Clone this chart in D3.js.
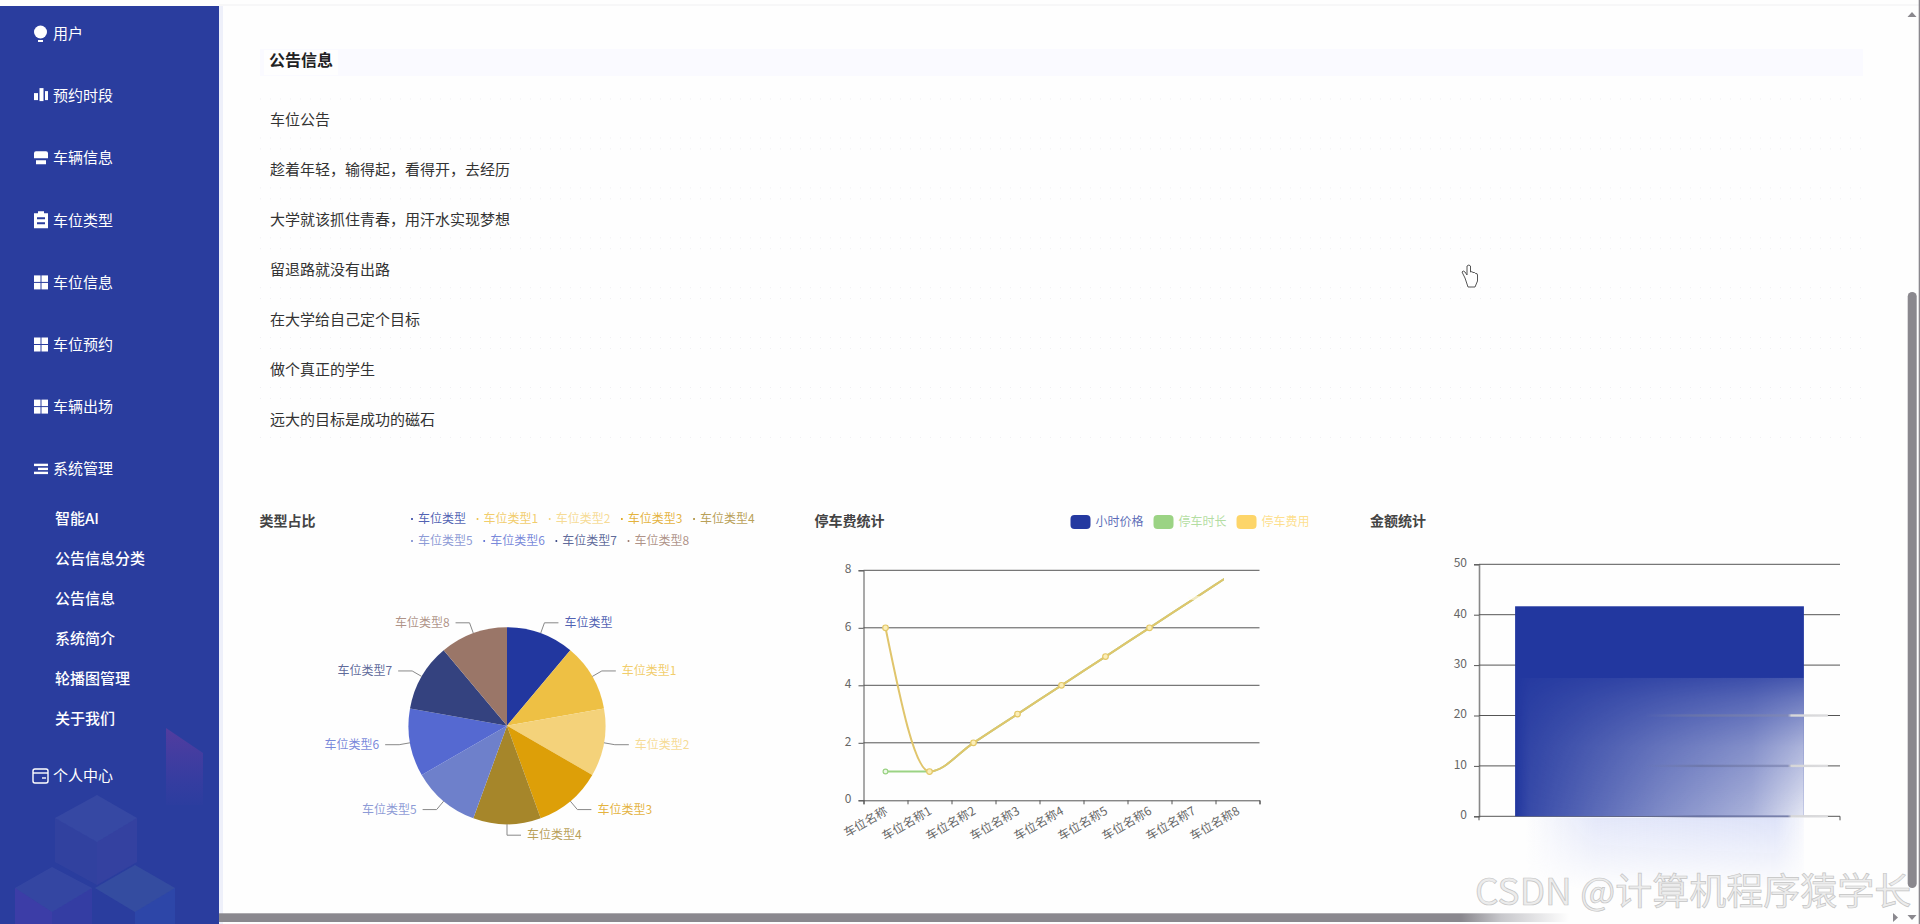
<!DOCTYPE html>
<html>
<head>
<meta charset="utf-8">
<script src="https://cdn.jsdelivr.net/npm/d3@7"></script>
<style>
    html, body { margin: 0; padding: 0; background: #fefefe; overflow: hidden; }
    svg { display: block; }
    text { font-family: "Noto Sans CJK SC", "Noto Sans", sans-serif; }
</style>
</head>
<body>
<div id="page"></div>
<script>
// menu
const menuItems = ['用户', '预约时段', '车辆信息', '车位类型', '车位信息', '车位预约', '车辆出场', '系统管理'];
const menuIcons = ['bulb', 'bars', 'shop', 'clip', 'grid', 'grid', 'grid', 'list'];
const subMenuItems = ['智能AI', '公告信息分类', '公告信息', '系统简介', '轮播图管理', '关于我们'];

// notices
const noticeTitle = '公告信息';
const notices = ['车位公告', '趁着年轻，输得起，看得开，去经历', '大学就该抓住青春，用汗水实现梦想', '留退路就没有出路', '在大学给自己定个目标', '做个真正的学生', '远大的目标是成功的磁石'];

// pie
const pieLabels = ['车位类型', '车位类型1', '车位类型2', '车位类型3', '车位类型4', '车位类型5', '车位类型6', '车位类型7', '车位类型8'];
const pieValues = [1, 1, 1, 1, 1, 1, 1, 1, 1];
const pieColors = ['#22379f', '#eec044', '#f4d27a', '#dd9f08', '#a6862a', '#6e80cb', '#5569d1', '#34427f', '#9a7668'];

// line
const lineCategories = ['车位名称', '车位名称1', '车位名称2', '车位名称3', '车位名称4', '车位名称5', '车位名称6', '车位名称7', '车位名称8'];
const durationValues = [1, 1, 2, 3, 4, 5, 6, 7, 8];
const feeValues = [6, 1, 2, 3, 4, 5, 6, 7, 8];
const lineLegend = ['小时价格', '停车时长', '停车费用'];
const lineLegendColors = ['#2439a0', '#9bd384', '#fdd569'];
const lineTicks = [0, 2, 4, 6, 8];

// bar
const amountCategories = ['金额'];
const amountValues = [41.67];
const amountTicks = [0, 10, 20, 30, 40, 50];

const sidebarColor = '#2a3d9e';
const axisColor = '#555';
const labelColor = '#666';
const thinText = 0.8; // labels in the reference look washed out

const svg = d3.select('#page').append('svg').attr('width', 1920).attr('height', 924);
const defs = svg.append('defs');

svg.append('rect').attr('width', 1920).attr('height', 924).attr('fill', '#fefefe');
svg.append('line').attr('x1', 219).attr('x2', 1920).attr('y1', 5).attr('y2', 5).attr('stroke', '#f0f0f2');

drawSidebar();
drawNotices();
drawPie();
drawLine();
drawBar();
drawChrome();

function drawSidebar() {
    const g = svg.append('g');
    g.append('rect').attr('x', 219).attr('y', 6).attr('width', 4).attr('height', 918).attr('fill', '#eef0fa');
    g.append('rect').attr('y', 6).attr('width', 219).attr('height', 918).attr('fill', sidebarColor);

    // faint cubes of the background picture
    const fade = defs.append('linearGradient').attr('id', 'panelFade').attr('x1', 0).attr('x2', 0).attr('y1', 0).attr('y2', 1);
    fade.append('stop').attr('offset', 0).attr('stop-color', '#8c3ca0').attr('stop-opacity', 0.42);
    fade.append('stop').attr('offset', 1).attr('stop-color', '#6a3cb0').attr('stop-opacity', 0.03);
    g.append('polygon').attr('points', '166,728 203,753 203,805 166,805').attr('fill', 'url(#panelFade)');
    const cubes = [
        ['97,795 137,818 97,842 55,818', '#fff', 0.06],
        ['55,818 97,842 97,885 55,862', '#7a6ab0', 0.1],
        ['97,842 137,818 137,862 97,885', '#7a5ab0', 0.13],
        ['15,888 52,867 92,888 52,912', '#fff', 0.05],
        ['15,888 52,912 52,924 15,924', '#6a3cc0', 0.28],
        ['52,912 92,888 92,924 52,924', '#6a3cc0', 0.16],
        ['135,865 175,888 135,912 95,888', '#6a9ab0', 0.16],
        ['135,912 175,888 175,924 135,924', '#3a70d0', 0.2],
    ];
    cubes.forEach(c => g.append('polygon').attr('points', c[0]).attr('fill', c[1]).attr('opacity', c[2]));

    const menu = g.selectAll('.menu').data(menuItems).enter().append('g')
        .attr('transform', (d, i) => `translate(0, ${34 + i * 62.1})`);
    menu.append('text').attr('x', 53).attr('dy', '0.35em').attr('fill', '#fff').attr('font-size', 15).text(d => d);
    menu.each(function (d, i) { drawIcon(d3.select(this), menuIcons[i]); });

    g.selectAll('.sub').data(subMenuItems).enter().append('text')
        .attr('x', 55).attr('y', (d, i) => 518.5 + i * 40.1).attr('dy', '0.35em')
        .attr('fill', '#fff').attr('font-size', 15).attr('font-weight', 500).text(d => d);

    const personal = g.append('g').attr('transform', 'translate(0, 776)');
    personal.append('text').attr('x', 53).attr('dy', '0.35em').attr('fill', '#fff').attr('font-size', 15).text('个人中心');
    personal.append('rect').attr('x', 33).attr('y', -7).attr('width', 15).attr('height', 14).attr('rx', 2)
        .attr('fill', 'none').attr('stroke', '#fff').attr('stroke-width', 1.4);
    personal.append('line').attr('x1', 33).attr('x2', 48).attr('y1', -3).attr('y2', -3).attr('stroke', '#fff').attr('stroke-width', 1.4);
    personal.append('line').attr('x1', 42).attr('x2', 46).attr('y1', 2).attr('y2', 2).attr('stroke', '#fff').attr('stroke-width', 1.4);
}

function drawIcon(g, name) {
    if (name === 'bulb') {
        g.append('circle').attr('cx', 40.5).attr('cy', -2).attr('r', 6.5).attr('fill', '#fff');
        g.append('rect').attr('x', 38).attr('y', 6).attr('width', 5).attr('height', 2).attr('fill', '#fff');
    } else if (name === 'bars') {
        [[34, 4, -2, 6], [39.5, 4, -7, 12], [45, 3, -4, 8]].forEach(b =>
            g.append('rect').attr('x', b[0]).attr('width', b[1]).attr('y', b[2] - 1).attr('height', b[3] + 1).attr('fill', '#fff'));
    } else if (name === 'shop') {
        g.append('path').attr('d', 'M36 -7 H46 Q48 -7 48 -5 V0 H34 V-5 Q34 -7 36 -7 Z M36 2 H46 V6 H36 Z').attr('fill', '#fff');
    } else if (name === 'clip') {
        g.append('path').attr('d', 'M34 -7 H38 V-9 H44 V-7 H48 V8 H34 Z M37 -3 V-1 H45 V-3 Z M37 2 V4 H45 V2 Z').attr('fill', '#fff').attr('fill-rule', 'evenodd');
    } else if (name === 'grid') {
        [[34, -7], [41.5, -7], [34, 0.5], [41.5, 0.5]].forEach(b =>
            g.append('rect').attr('x', b[0]).attr('y', b[1]).attr('width', 6.5).attr('height', 6.5).attr('fill', '#fff'));
    } else if (name === 'list') {
        [-5, -1, 3].forEach((y, i) =>
            g.append('rect').attr('x', i === 1 ? 38 : 34).attr('y', y).attr('width', i === 1 ? 10 : 14).attr('height', 2.4).attr('fill', '#fff'));
    }
}

function drawNotices() {
    const g = svg.append('g');
    g.append('rect').attr('x', 260).attr('y', 49).attr('width', 1603).attr('height', 27).attr('fill', '#fafaff');
    g.append('rect').attr('x', 264).attr('y', 50).attr('width', 74).attr('height', 25).attr('fill', '#fefefe');
    g.append('text').attr('x', 269).attr('y', 60.5).attr('dy', '0.35em').attr('font-size', 16)
        .attr('font-weight', 700).attr('fill', '#222').text(noticeTitle);

    const rows = g.selectAll('.row').data(notices).enter().append('g')
        .attr('transform', (d, i) => `translate(0, ${120 + i * 49.9})`);
    rows.append('text').attr('x', 270).attr('dy', '0.35em').attr('font-size', 15).attr('fill', '#333').text(d => d);
    [-21, 18].forEach(dy => {
        rows.append('line').attr('x1', 260).attr('x2', 1863).attr('y1', dy).attr('y2', dy)
            .attr('stroke', '#efeff2').attr('stroke-dasharray', '1 9');
    });
}

function chartTitle(x, text) {
    svg.append('text').attr('x', x).attr('y', 521).attr('dy', '0.35em').attr('font-size', 14)
        .attr('font-weight', 700).attr('fill', '#444').text(text);
}

function drawPie() {
    chartTitle(259.5, '类型占比');

    // legend, wraps after five items
    const legend = svg.append('g');
    let lx = 418;
    pieLabels.forEach((label, i) => {
        if (i === 5) lx = 418;
        const ly = i < 5 ? 519 : 541;
        legend.append('circle').attr('cx', lx - 6).attr('cy', ly).attr('r', 1).attr('fill', pieColors[i]);
        const t = legend.append('text').attr('x', lx).attr('y', ly).attr('dy', '0.35em')
            .attr('font-size', 12).attr('fill', pieColors[i]).attr('fill-opacity', thinText).text(label);
        lx += t.node().getComputedTextLength() + 17.5;
    });

    const radius = 98.5;
    const g = svg.append('g').attr('transform', 'translate(507, 725.7)');
    const pie = d3.pie().value(d => d).sort(null);
    const arc = d3.arc().innerRadius(0).outerRadius(radius);
    const arcs = pie(pieValues);

    g.selectAll('path.slice').data(arcs).enter().append('path')
        .attr('class', 'slice')
        .attr('d', arc)
        .attr('fill', (d, i) => pieColors[i]);

    arcs.forEach((d, i) => {
        const mid = (d.startAngle + d.endAngle) / 2;
        const sx = Math.sin(mid), sy = -Math.cos(mid);
        const side = sx >= -1e-6 ? 1 : -1;
        const ex = (radius + 11) * sx, ey = (radius + 11) * sy;
        g.append('polyline')
            .attr('points', [[radius * sx, radius * sy], [ex, ey], [ex + side * 14, ey]].join(' '))
            .attr('fill', 'none').attr('stroke', '#888').attr('stroke-width', 1);
        g.append('text')
            .attr('x', ex + side * 20).attr('y', ey).attr('dy', '0.35em')
            .attr('text-anchor', side > 0 ? 'start' : 'end')
            .attr('font-size', 12).attr('fill', pieColors[i]).attr('fill-opacity', thinText).text(pieLabels[i]);
    });
}

function drawLine() {
    chartTitle(814.5, '停车费统计');

    // legend
    let lx = 1070.5;
    lineLegend.forEach((label, i) => {
        svg.append('rect').attr('x', lx).attr('y', 515).attr('width', 20).attr('height', 14).attr('rx', 4)
            .attr('fill', lineLegendColors[i]);
        const t = svg.append('text').attr('x', lx + 25).attr('y', 522).attr('dy', '0.35em')
            .attr('font-size', 12).attr('fill', lineLegendColors[i]).attr('fill-opacity', 0.75).text(label);
        lx += 25 + t.node().getComputedTextLength() + 10;
    });

    const left = 863.5, right = 1259.5, top = 570.3, bottom = 800.3;
    const x = d3.scaleBand().domain(lineCategories).range([left, right]);
    const y = d3.scaleLinear().domain([0, 8]).range([bottom, top]);
    const xBoundary = d3.scaleLinear().domain([0, lineCategories.length]).range([left, right]);

    const yAxis = svg.append('g').attr('transform', `translate(${left}, 0)`)
        .call(d3.axisLeft(y).tickValues(lineTicks).tickSize(5).tickPadding(7));
    yAxis.selectAll('line').attr('stroke', axisColor);
    yAxis.selectAll('text').attr('font-size', 12).attr('fill', labelColor).attr('y', -1.5);
    yAxis.select('.domain').attr('stroke', axisColor);

    svg.append('g').selectAll('line').data(lineTicks.filter(d => d > 0)).enter().append('line')
        .attr('x1', left).attr('x2', right)
        .attr('y1', d => y(d)).attr('y2', d => y(d))
        .attr('stroke', axisColor);

    const xTicks = svg.append('g').attr('transform', `translate(0, ${bottom})`)
        .call(d3.axisBottom(xBoundary).tickValues(d3.range(lineCategories.length + 1)).tickSize(4).tickFormat(''));
    xTicks.selectAll('line').attr('stroke', axisColor);
    xTicks.select('.domain').attr('stroke', axisColor);

    const xLabels = svg.append('g').attr('transform', `translate(0, ${bottom})`)
        .call(d3.axisBottom(x).tickSize(0));
    xLabels.select('.domain').remove();
    xLabels.selectAll('.tick text')
        .attr('font-size', 12).attr('fill', labelColor)
        .attr('text-anchor', 'end')
        .attr('dy', '0.35em').attr('x', 1).attr('y', 0)
        .attr('transform', 'translate(0, 10) rotate(-30)');

    // the screenshot caught the reveal animation: everything right of this is not drawn yet
    const revealRight = 1224;
    defs.append('clipPath').attr('id', 'lineReveal').append('rect')
        .attr('x', left - 10).attr('y', top - 10).attr('width', revealRight - left + 10).attr('height', bottom - top + 20);

    const line = d3.line()
        .x((d, i) => x(lineCategories[i]) + x.bandwidth() / 2)
        .y(d => y(d))
        .curve(d3.curveMonotoneX);

    const plot = svg.append('g').attr('clip-path', 'url(#lineReveal)');
    plot.append('path').attr('d', line(durationValues)).attr('fill', 'none').attr('stroke', '#9bd384').attr('stroke-width', 2);
    plot.append('path').attr('d', line(feeValues)).attr('fill', 'none').attr('stroke', '#e0c56c').attr('stroke-width', 2);

    plot.append('circle')
        .attr('cx', x(lineCategories[0]) + x.bandwidth() / 2).attr('cy', y(durationValues[0])).attr('r', 2.4)
        .attr('fill', '#eef8ea').attr('stroke', '#9bd384').attr('stroke-width', 1.2);

    plot.selectAll('circle.fee').data(feeValues.slice(0, 7)).enter().append('circle')
        .attr('class', 'fee')
        .attr('cx', (d, i) => x(lineCategories[i]) + x.bandwidth() / 2)
        .attr('cy', d => y(d))
        .attr('r', 2.8)
        .attr('fill', '#fbeeb8').attr('stroke', '#e3c766').attr('stroke-width', 1.2);

    // pale smear over the eighth point
    plot.append('ellipse')
        .attr('cx', x(lineCategories[7]) + x.bandwidth() / 2 + 3).attr('cy', y(feeValues[7]) - 1)
        .attr('rx', 9).attr('ry', 2)
        .attr('fill', '#fffdf0').attr('opacity', 0.6);
}

function drawBar() {
    chartTitle(1370, '金额统计');

    const left = 1479, right = 1840, top = 564.3, bottom = 816.3;
    const x = d3.scaleBand().domain(amountCategories).range([left, right]).paddingInner(0.2).paddingOuter(0.1);
    const y = d3.scaleLinear().domain([0, 50]).range([bottom, top]);

    const yAxis = svg.append('g').attr('transform', `translate(${left}, 0)`)
        .call(d3.axisLeft(y).tickValues(amountTicks).tickSize(5).tickPadding(7));
    yAxis.selectAll('line').attr('stroke', axisColor);
    yAxis.selectAll('text').attr('font-size', 12).attr('fill', labelColor).attr('y', -1.5);
    yAxis.select('.domain').attr('stroke', '#888').attr('stroke-width', 1.6);

    svg.append('g').selectAll('line').data(amountTicks).enter().append('line')
        .attr('x1', left).attr('x2', right)
        .attr('y1', d => y(d)).attr('y2', d => y(d))
        .attr('stroke', axisColor);

    [left, right].forEach(px => {
        svg.append('line').attr('x1', px).attr('x2', px).attr('y1', bottom).attr('y2', bottom + 4).attr('stroke', axisColor);
    });

    const barX = x(amountCategories[0]), barW = x.bandwidth();
    const barTop = y(amountValues[0]);
    const barH = bottom - barTop;

    // the solid bar
    svg.append('rect').attr('x', barX).attr('y', barTop).attr('width', barW).attr('height', barH).attr('fill', '#22379f');

    // the picture was taken mid-transition, the lower right of the bar washes out to white
    const fadeTop = y(27.5);
    const washH = defs.append('linearGradient').attr('id', 'washH');
    [[0, 0], [0.05, 0.1], [0.5, 0.42], [0.82, 0.62], [1, 0.88]].forEach(s =>
        washH.append('stop').attr('offset', s[0]).attr('stop-color', '#fff').attr('stop-opacity', s[1]));
    const washV = defs.append('linearGradient').attr('id', 'washV').attr('x1', 0).attr('x2', 0).attr('y1', 0).attr('y2', 1);
    [[0, 0.2], [0.15, 0.38], [0.5, 0.72], [1, 1]].forEach(s =>
        washV.append('stop').attr('offset', s[0]).attr('stop-color', '#fff').attr('stop-opacity', s[1]));
    defs.append('mask').attr('id', 'washMask').attr('maskContentUnits', 'objectBoundingBox')
        .append('rect').attr('width', 1).attr('height', 1).attr('fill', 'url(#washV)');
    svg.append('rect').attr('x', barX).attr('y', fadeTop).attr('width', barW).attr('height', bottom - fadeTop)
        .attr('fill', 'url(#washH)').attr('mask', 'url(#washMask)');

    // haze under the bar
    const hazeH = defs.append('linearGradient').attr('id', 'hazeH');
    [[0, 0], [0.25, 0.8], [0.9, 1], [1, 0.2]].forEach(s =>
        hazeH.append('stop').attr('offset', s[0]).attr('stop-color', '#dde2f8').attr('stop-opacity', s[1]));
    const hazeV = defs.append('linearGradient').attr('id', 'hazeV').attr('x1', 0).attr('x2', 0).attr('y1', 0).attr('y2', 1);
    hazeV.append('stop').attr('offset', 0).attr('stop-color', '#fff').attr('stop-opacity', 1);
    hazeV.append('stop').attr('offset', 1).attr('stop-color', '#fff').attr('stop-opacity', 0);
    defs.append('mask').attr('id', 'hazeMask').attr('maskContentUnits', 'objectBoundingBox')
        .append('rect').attr('width', 1).attr('height', 1).attr('fill', 'url(#hazeV)');
    svg.append('rect').attr('x', barX + 10).attr('y', bottom + 1).attr('width', barW - 10).attr('height', 72)
        .attr('fill', 'url(#hazeH)').attr('mask', 'url(#hazeMask)');

    // ghost of the grid lines left by the same transition
    const ghost = defs.append('linearGradient').attr('id', 'ghostLine');
    [[0, '#6c76a8', 0], [0.3, '#6c76a8', 0.85], [0.78, '#8088b4', 0.75], [0.8, '#d6d6d8', 1], [1, '#dcdcde', 1]].forEach(s =>
        ghost.append('stop').attr('offset', s[0]).attr('stop-color', s[1]).attr('stop-opacity', s[2]));
    svg.append('g').selectAll('rect').data(amountTicks.filter(d => d <= 20)).enter().append('rect')
        .attr('x', barX + barW * 0.45).attr('width', barW * 0.55 + 24)
        .attr('y', d => y(d) - 1.2).attr('height', 2.4)
        .attr('fill', 'url(#ghostLine)');
}

function drawChrome() {
    // scrollbars
    const bar = defs.append('linearGradient').attr('id', 'hScroll');
    [[0, '#8a888e', 1], [0.92, '#8a888e', 1], [0.95, '#c8c8cc', 1], [1, '#fefefe', 1]].forEach(s =>
        bar.append('stop').attr('offset', s[0]).attr('stop-color', s[1]).attr('stop-opacity', s[2]));
    svg.append('rect').attr('x', 219).attr('y', 913.3).attr('width', 1350).attr('height', 8.7).attr('fill', 'url(#hScroll)');
    svg.append('rect').attr('x', 1918.7).attr('y', 0).attr('width', 1.3).attr('height', 924).attr('fill', '#8a888e');
    svg.append('rect').attr('x', 1907.7).attr('y', 292).attr('width', 9).attr('height', 596).attr('rx', 4.5).attr('fill', '#8a888e');
    svg.append('path').attr('d', 'M1912 12 L1916.5 17 H1907.5 Z').attr('fill', '#8a888e');
    svg.append('path').attr('d', 'M1893 913 L1898 917.5 L1893 922 Z').attr('fill', '#8a888e');
    svg.append('path').attr('d', 'M1907.5 915 H1916.5 L1912 920 Z').attr('fill', '#8a888e');

    // hand cursor
    svg.append('path')
        .attr('d', 'M1465 278 L1462 272 Q1463 270 1465 272 L1467 275 V266 Q1469 264 1470.5 266 V272 Q1472 271 1473 272.5 Q1475 272 1475.5 273.5 Q1477.5 273 1477.5 275 V281 L1475 287 H1468 Z')
        .attr('fill', '#fff').attr('stroke', '#555').attr('stroke-width', 1);

    // watermark
    svg.append('text').attr('x', 1475).attr('y', 891.7).attr('dy', '0.35em')
        .attr('font-size', 37).attr('fill', '#ececec').attr('stroke', '#c4c4c4').attr('stroke-width', 0.7)
        .text('CSDN @计算机程序猿学长');
}
</script>
</body>
</html>
